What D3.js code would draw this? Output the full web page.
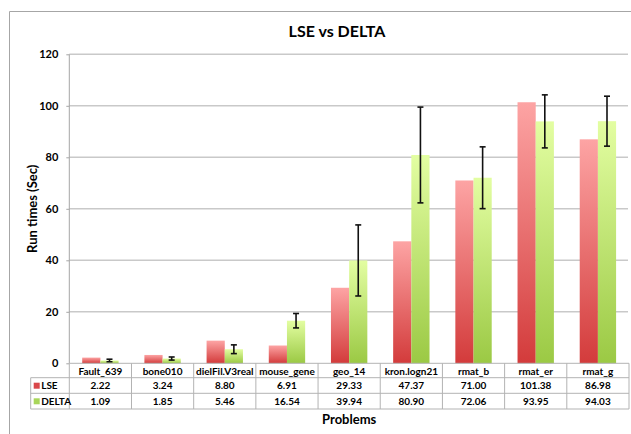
<!DOCTYPE html>
<html><head><meta charset="utf-8">
<script src="https://cdn.jsdelivr.net/npm/d3@7"></script>
<style>body{margin:0;background:#fff}svg{display:block;font-family:Lato,"Open Sans",sans-serif}</style>
</head><body><svg width="631" height="434"></svg>
<script>
const categories = ["Fault_639","bone010","dielFil.V3real","mouse_gene","geo_14","kron.logn21","rmat_b","rmat_er","rmat_g"];
const lseValues = [2.22,3.24,8.80,6.91,29.33,47.37,71.00,101.38,86.98];
const deltaValues = [1.09,1.85,5.46,16.54,39.94,80.90,72.06,93.95,94.03];
const deltaErrors = [0.5,0.6,1.7,2.8,13.8,18.6,12.0,10.3,9.7];
const seriesNames = ["LSE","DELTA"];
const yTicks = [0,20,40,60,80,100,120];

const svg = d3.select("svg");
const L = 69.3, R = 629, T = 54.3, B = 363.3;
const x = d3.scaleBand().domain(categories).range([L,R]).paddingInner(0).paddingOuter(0);
const y = d3.scaleLinear().domain([0,120]).range([B,T]);

const defs = svg.append("defs");
const grads = [["gLSE","#fda4a4","#d33b3b"],["gDELTA","#e3fea2","#9bc944"]];
grads.forEach(([id,c1,c2])=>{
  const g = defs.append("linearGradient").attr("id",id).attr("x1",0).attr("y1",0).attr("x2",0).attr("y2",1);
  g.append("stop").attr("offset","0%").attr("stop-color",c1);
  g.append("stop").attr("offset","100%").attr("stop-color",c2);
});

// outer frame (left and top only visible)
svg.append("path").attr("d","M9.5,434 V11.5 H631").attr("fill","none").attr("stroke","#a6a6a6").attr("stroke-width",1);

// title
svg.append("text").attr("x",337).attr("y",37).attr("text-anchor","middle").attr("font-size",16).attr("font-weight","bold").text("LSE vs DELTA");

// grid
const grid = svg.append("g");
grid.selectAll("line").data(yTicks.filter(d=>d>0)).join("line")
  .attr("x1",L).attr("x2",R-1).attr("y1",d=>y(d)).attr("y2",d=>y(d))
  .attr("stroke","#c9c9c9").attr("stroke-width",1.6);

// y axis
const yAxis = d3.axisLeft(y).tickValues(yTicks).tickSize(3).tickPadding(8);
const ya = svg.append("g").attr("transform",`translate(${L},0)`).call(yAxis);
ya.select(".domain").attr("stroke","#a6a6a6").attr("d",`M0,${B}V${T}`);
ya.selectAll(".tick line").attr("stroke","#a6a6a6");
ya.selectAll(".tick text").attr("font-size",11).attr("font-weight","bold").attr("fill","#000").attr("font-family","Lato,sans-serif");

// y label
svg.append("text").attr("transform",`translate(37,${(T+B)/2}) rotate(-90)`).attr("text-anchor","middle")
  .attr("font-size",13).attr("font-weight","bold").text("Run times (Sec)");

// bars
const sub = d3.scaleBand().domain(seriesNames).range([0,x.bandwidth()]).paddingInner(0).paddingOuter(0.71);
const data = categories.map((c,i)=>({c, vals:[lseValues[i],deltaValues[i]], err:deltaErrors[i]}));
const gBars = svg.append("g");
data.forEach(d=>{
  seriesNames.forEach((s,j)=>{
    gBars.append("rect")
      .attr("x",x(d.c)+sub(s)).attr("width",sub.bandwidth())
      .attr("y",y(d.vals[j])).attr("height",B-y(d.vals[j]))
      .attr("fill",`url(#g${s})`);
  });
});
// error bars on DELTA
const gErr = svg.append("g").attr("stroke","#111").attr("stroke-width",1.6);
data.forEach(d=>{
  const cx = x(d.c)+sub("DELTA")+sub.bandwidth()/2;
  const y1 = y(d.vals[1]+d.err), y2 = y(Math.max(0,d.vals[1]-d.err));
  gErr.append("line").attr("x1",cx).attr("x2",cx).attr("y1",y1).attr("y2",y2);
  gErr.append("line").attr("x1",cx-3).attr("x2",cx+3).attr("y1",y1).attr("y2",y1);
  gErr.append("line").attr("x1",cx-3).attr("x2",cx+3).attr("y1",y2).attr("y2",y2);
});

// data table
const rowY = [B, 377.7, 393.3, 409];
const tLeft = 30.7;
const tab = svg.append("g");
const lc = "#b3b3b3";
// horizontal lines
tab.append("line").attr("x1",L).attr("x2",R).attr("y1",rowY[0]).attr("y2",rowY[0]).attr("stroke",lc);
[1,2,3].forEach(i=>tab.append("line").attr("x1",tLeft).attr("x2",R).attr("y1",rowY[i]).attr("y2",rowY[i]).attr("stroke",lc));
// vertical lines
tab.append("line").attr("x1",tLeft).attr("x2",tLeft).attr("y1",rowY[1]).attr("y2",rowY[3]).attr("stroke",lc);
categories.forEach(c=>{
  tab.append("line").attr("x1",x(c)).attr("x2",x(c)).attr("y1",rowY[0]).attr("y2",rowY[3]).attr("stroke",lc);
});
tab.append("line").attr("x1",R).attr("x2",R).attr("y1",rowY[0]).attr("y2",rowY[3]).attr("stroke",lc);

const fmt = d3.format(".2f");
const txt = (xx,yy,t)=>tab.append("text").attr("x",xx).attr("y",yy).attr("text-anchor","middle")
  .attr("font-size",10).attr("font-weight","bold").text(t);
categories.forEach((c,i)=>{
  const cx = x(c)+x.bandwidth()/2;
  txt(cx, rowY[0]+11.5, c);
  txt(cx, rowY[1]+11.5, fmt(lseValues[i]));
  txt(cx, rowY[2]+11.5, fmt(deltaValues[i]));
});
const swatch = ["#d9474a","#a8d65a"];
seriesNames.forEach((s,j)=>{
  tab.append("rect").attr("x",tLeft+3).attr("y",rowY[j+1]+5).attr("width",6).attr("height",6).attr("fill",swatch[j]);
  tab.append("text").attr("x",tLeft+10.5).attr("y",rowY[j+1]+11.5).attr("font-size",10).attr("font-weight","bold").text(s);
});

// x label
svg.append("text").attr("x",(L+R)/2).attr("y",424).attr("text-anchor","middle").attr("font-size",13).attr("font-weight","bold").text("Problems");
</script></body></html>
